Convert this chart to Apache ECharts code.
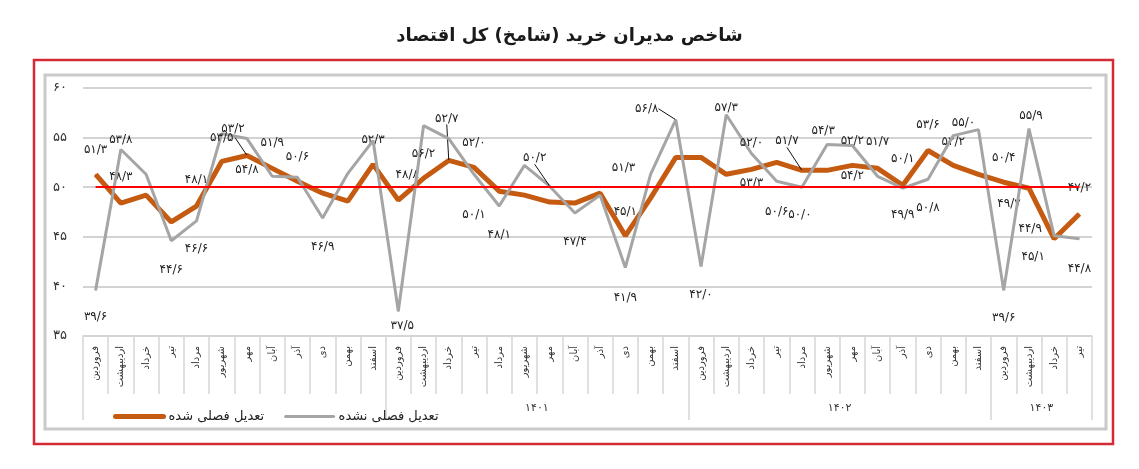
<!DOCTYPE html>
<html><head><meta charset="utf-8">
<script src="https://cdn.jsdelivr.net/npm/echarts@6/dist/echarts.min.js"></script>
<style>html,body{margin:0;padding:0;background:#fff}#c{width:1139px;height:469px}</style>
</head><body><div id="c"></div>
<script>
// ---------- DATA ----------
const chartTitle = 'شاخص مدیران خرید (شامخ) کل اقتصاد';
const seriesNames = ['تعدیل فصلی شده', 'تعدیل فصلی نشده'];
const monthNames = ['فروردین','اردیبهشت','خرداد','تیر','مرداد','شهریور','مهر','آبان','آذر','دی','بهمن','اسفند'];
const monthsPerYear = [12, 12, 12, 4];
const yearLabels = ['', '۱۴۰۱', '۱۴۰۲', '۱۴۰۳'];
const yTickLabels = ['۳۵', '۴۰', '۴۵', '۵۰', '۵۵', '۶۰'];
const threshold = 50;

const adjusted = [51.3, 48.4, 49.2, 46.5, 48.1, 52.6, 53.2, 51.9, 50.6, 49.4, 48.6, 52.3,
                  48.7, 50.9, 52.7, 52.0, 49.6, 49.2, 48.5, 48.4, 49.4, 45.1, 48.9, 53.0,
                  53.0, 51.3, 51.8, 52.5, 51.7, 51.7, 52.2, 51.9, 50.2, 53.7, 52.2, 51.3,
                  50.5, 49.9, 44.8, 47.3];
const nonAdjusted = [39.6, 53.8, 51.3, 44.6, 46.6, 55.4, 54.9, 51.1, 51.0, 46.9, 51.4, 54.7,
                     37.5, 56.2, 54.9, 51.3, 48.1, 52.2, 50.1, 47.4, 49.2, 41.9, 51.3, 56.8,
                     42.0, 57.3, 53.4, 50.6, 50.0, 54.3, 54.2, 51.1, 49.9, 50.8, 55.2, 55.8,
                     39.6, 55.9, 45.1, 44.8];

// data label texts (as printed in the source)
const adjustedLabels = {0:'۵۱/۳',1:'۴۸/۳',4:'۴۸/۱',6:'۵۳/۲',7:'۵۱/۹',8:'۵۰/۶',11:'۵۲/۳',12:'۴۸/۸',
  14:'۵۲/۷',15:'۵۲/۰',21:'۴۵/۱',26:'۵۳/۳',28:'۵۱/۷',30:'۵۴/۲',31:'۵۱/۷',32:'۵۰/۱',33:'۵۳/۶',
  34:'۵۲/۲',36:'۵۰/۴',37:'۴۹/۷',38:'۴۴/۹',39:'۴۷/۲'};
const nonAdjustedLabels = {0:'۳۹/۶',1:'۵۳/۸',3:'۴۴/۶',4:'۴۶/۶',5:'۵۳/۵',6:'۵۴/۸',9:'۴۶/۹',12:'۳۷/۵',
  13:'۵۶/۲',15:'۵۰/۱',16:'۴۸/۱',18:'۵۰/۲',19:'۴۷/۴',21:'۴۱/۹',22:'۵۱/۳',23:'۵۶/۸',24:'۴۲/۰',
  25:'۵۷/۳',26:'۵۲/۰',27:'۵۰/۶',28:'۵۰/۰',29:'۵۴/۳',30:'۵۲/۲',32:'۴۹/۹',33:'۵۰/۸',35:'۵۵/۰',
  36:'۳۹/۶',37:'۵۵/۹',38:'۴۵/۱',39:'۴۴/۸'};

// ---------- LAYOUT (label placement, px offsets from point) ----------
const adjustedLabelOffsets = {0:[0,-24],1:[0,-26],4:[0,-26],6:[-14,-27],7:[0,-25],8:[0,-24],11:[0,-25],12:[9,-25],
  14:[-2,-42],15:[0,-24],21:[0,-24],26:[0,14],28:[-15,-29],30:[0,10],31:[0,-26],32:[0,-26],33:[0,-26],
  34:[0,-24],36:[0,-24],37:[-20,16],38:[-24,-10],39:[0,-26]};
const nonAdjustedLabelOffsets = {0:[0,27],1:[0,-10],3:[0,29],4:[0,28],5:[0,4],6:[0,31],9:[0,29],12:[4,15],
  13:[0,28],15:[0,41],16:[0,29],18:[-15,-28],19:[0,29],21:[0,30],22:[-27,-6],23:[-29,-11],24:[0,28],
  25:[0,-7],26:[0,-11],27:[0,31],28:[-2,28],29:[-4,-14],30:[0,-5],32:[0,27],33:[0,29],35:[-15,-7],
  36:[0,28],37:[2,-13],38:[-21,21],39:[0,30]};
const adjustedLeader = [6, 14, 28];
const nonAdjustedLeader = [18, 23];

// ---------- BUILD ----------
const categories = [], yearAxisData = [], groupStarts = [];
monthsPerYear.forEach((n, k) => {
  groupStarts.push(categories.length);
  for (let m = 0; m < n; m++) {
    yearAxisData.push(m === Math.floor((n - 1) / 2) ? yearLabels[k] : '');
    categories.push(monthNames[m]);
  }
});

const FONT = 'DejaVu Sans';
function buildItems(values, texts, leaders) {
  return values.map((v, i) => ({
    value: v,
    label: texts[i] ? { show: true, formatter: texts[i] } : { show: false },
    labelLine: { show: leaders.includes(i) }
  }));
}
const offsetTables = [adjustedLabelOffsets, nonAdjustedLabelOffsets];

const chart = echarts.init(document.getElementById('c'), null, { renderer: 'canvas' });
chart.setOption({
  animation: false,
  backgroundColor: '#fff',
  title: {
    text: chartTitle, left: 'center', top: 22,
    textStyle: { fontFamily: FONT, fontSize: 18, fontWeight: 'bold', color: '#1a1a1a' }
  },
  graphic: [
    { type: 'rect', shape: { x: 34, y: 60, width: 1079, height: 384 },
      style: { fill: 'none', stroke: '#d42a35', lineWidth: 2.5 }, z: 0 },
    { type: 'rect', shape: { x: 45, y: 75, width: 1061, height: 354 },
      style: { fill: 'none', stroke: '#cacaca', lineWidth: 3 }, z: 0 }
  ],
  legend: {
    data: [
      { name: seriesNames[0], lineStyle: { width: 5, cap: 'round', color: '#c55a11' } },
      { name: seriesNames[1], lineStyle: { width: 3, cap: 'round', color: '#a5a5a5' } }
    ],
    left: 108, top: 405, itemWidth: 48, itemHeight: 12, itemGap: 20,
    itemStyle: { opacity: 0 },
    textStyle: { fontFamily: FONT, fontSize: 13, color: '#222' }
  },
  grid: { left: 83, right: 47, top: 88, bottom: 133 },
  xAxis: [
    { type: 'category', data: categories, boundaryGap: true, position: 'bottom',
      axisLine: { show: true, lineStyle: { color: '#d6d6d6', width: 1.5 } },
      axisTick: { show: true, interval: 0, length: 58, lineStyle: { color: '#d6d6d6', width: 1.5 } },
      axisLabel: { interval: 0, rotate: 90, margin: 10, fontFamily: FONT, fontSize: 10, color: '#333' } },
    { type: 'category', data: yearAxisData, boundaryGap: true, position: 'bottom', offset: 58,
      axisLine: { show: false },
      axisTick: { show: true, length: 26, interval: (idx) => groupStarts.includes(idx),
                  lineStyle: { color: '#d6d6d6', width: 1.5 } },
      axisLabel: { interval: 0, margin: 9, padding: [0, 0, 0, 25], fontFamily: FONT, fontSize: 11, color: '#333' } }
  ],
  yAxis: {
    type: 'value', min: 35, max: 60, interval: 5,
    axisLine: { show: false }, axisTick: { show: false },
    axisLabel: { align: 'left', margin: 30, fontFamily: FONT, fontSize: 13, color: '#333',
                 formatter: (v) => yTickLabels[Math.round((v - 35) / 5)] },
    splitLine: { lineStyle: { color: '#d3d3d3', width: 2 } }
  },
  series: [
    { name: seriesNames[0], type: 'line', data: buildItems(adjusted, adjustedLabels, adjustedLeader),
      symbol: 'circle', symbolSize: 1, showSymbol: true, showAllSymbol: true,
      lineStyle: { color: '#c55a11', width: 5 }, itemStyle: { color: '#c55a11' },
      label: { position: 'inside', fontFamily: FONT, fontSize: 12, color: '#222' },
      labelLine: { lineStyle: { color: '#111', width: 1 } },
      labelLayout: (p) => { const o = offsetTables[0][p.dataIndex]; return o ? { dx: o[0], dy: o[1] } : {}; },
      z: 2 },
    { name: seriesNames[1], type: 'line', data: buildItems(nonAdjusted, nonAdjustedLabels, nonAdjustedLeader),
      symbol: 'circle', symbolSize: 1, showSymbol: true, showAllSymbol: true,
      lineStyle: { color: '#a5a5a5', width: 3 }, itemStyle: { color: '#a5a5a5' },
      label: { position: 'inside', fontFamily: FONT, fontSize: 12, color: '#222' },
      labelLine: { lineStyle: { color: '#111', width: 1 } },
      labelLayout: (p) => { const o = offsetTables[1][p.dataIndex]; return o ? { dx: o[0], dy: o[1] } : {}; },
      markLine: { silent: true, symbol: 'none', label: { show: false },
        lineStyle: { color: '#ff0000', width: 2, type: 'solid' },
        data: [[{ xAxis: 0, yAxis: threshold }, { xAxis: categories.length - 1, yAxis: threshold }]] },
      z: 3 }
  ]
});
</script></body></html>
